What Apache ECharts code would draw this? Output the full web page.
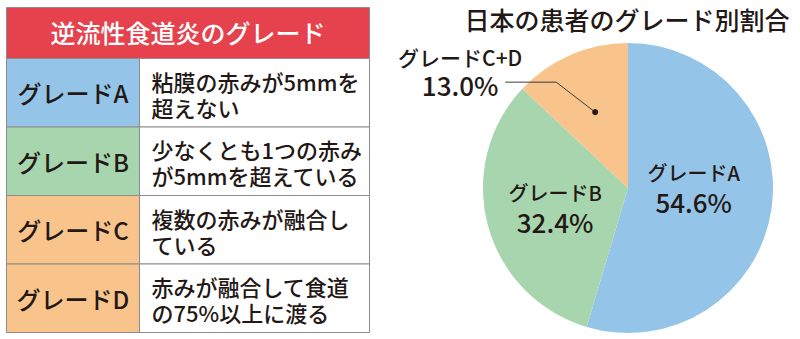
<!DOCTYPE html>
<html>
<head>
<meta charset="utf-8">
<script src="https://cdn.jsdelivr.net/npm/echarts@6/dist/echarts.min.js"></script>
<style>
html, body { margin: 0; padding: 0; background: #fff; }
#chart { width: 800px; height: 339px; }
</style>
</head>
<body>
<div id="chart"></div>
<script>
// 左の表
const tableTitle = '逆流性食道炎のグレード'
const tableGrades = ['グレードA', 'グレードB', 'グレードC', 'グレードD']
const tableNotes = [
  '粘膜の赤みが5mmを\n超えない',
  '少なくとも1つの赤み\nが5mmを超えている',
  '複数の赤みが融合し\nている',
  '赤みが融合して食道\nの75%以上に渡る'
]

// 右の円グラフ
const pieTitle = '日本の患者のグレード別割合'
const pieNames = ['グレードA', 'グレードB', 'グレードC+D']
const pieShares = [54.6, 32.4, 13.0]

const FONT = '"Noto Sans CJK JP", "Noto Sans CJK SC", sans-serif'
const WEIGHT = 500
const INK = '#231815'
const BLUE = '#94c5e9'
const GREEN = '#a6d5ae'
const ORANGE = '#f8c48b'
const RED = '#e5424e'
const rowColors = [BLUE, GREEN, ORANGE, ORANGE]
const pieColors = [BLUE, GREEN, ORANGE]

const pieCenter = [628, 188]
const pieRadius = 145
const dotR = 0.57 // 引き出し線の点（半径比）

// table layout
const tbl = { left: 6.5, right: 369.5, top: 7.5, head: 58.5, bottom: 332.5, split: 139.5 }
const rowH = (tbl.bottom - tbl.head) / tableGrades.length

const graphics = []
graphics.push({
  type: 'rect',
  shape: { x: tbl.left, y: tbl.top, width: tbl.right - tbl.left, height: tbl.head - tbl.top },
  style: { fill: RED, stroke: '#8c8c8c', lineWidth: 1 }
})
graphics.push({
  type: 'text',
  style: {
    text: tableTitle, x: (tbl.left + tbl.right) / 2, y: (tbl.top + tbl.head) / 2 - 1,
    fill: '#fff', fontSize: 25, fontWeight: WEIGHT, fontFamily: FONT, align: 'center', verticalAlign: 'middle'
  }
})
tableGrades.forEach((g, i) => {
  const y = tbl.head + i * rowH
  graphics.push({
    type: 'rect',
    shape: { x: tbl.left, y: y, width: tbl.split - tbl.left, height: rowH },
    style: { fill: rowColors[i], stroke: '#8c8c8c', lineWidth: 1 }
  })
  graphics.push({
    type: 'rect',
    shape: { x: tbl.split, y: y, width: tbl.right - tbl.split, height: rowH },
    style: { fill: '#fff', stroke: '#8c8c8c', lineWidth: 1 }
  })
  graphics.push({
    type: 'text',
    style: {
      text: g, x: (tbl.left + tbl.split) / 2, y: y + rowH / 2,
      fill: INK, fontSize: 24, fontWeight: WEIGHT, fontFamily: FONT, align: 'center', verticalAlign: 'middle'
    }
  })
  graphics.push({
    type: 'text',
    style: {
      text: tableNotes[i], x: tbl.split + 12, y: y + rowH / 2 + 1,
      fill: INK, fontSize: 22, lineHeight: 26, fontWeight: WEIGHT, fontFamily: FONT,
      align: 'left', verticalAlign: 'middle'
    }
  })
})

// C+D の引き出し線の起点（角度は円グラフと同じ 0-100 の目盛り）
const dotAngle = pieShares[0] + pieShares[1] + pieShares[2] / 2

const myChart = echarts.init(document.getElementById('chart'), null, { renderer: 'svg' })

const richText = {
  n: { fontSize: 20, lineHeight: 28, color: INK, fontWeight: WEIGHT, fontFamily: FONT },
  v: { fontSize: 26, lineHeight: 30, color: INK, fontWeight: WEIGHT, fontFamily: FONT }
}

const myOption = {
  backgroundColor: '#fff',
  animation: false,
  title: {
    text: pieTitle,
    left: 627,
    top: 6,
    textAlign: 'center',
    padding: 0,
    textStyle: { fontSize: 25, fontWeight: WEIGHT, color: INK, fontFamily: FONT }
  },
  polar: { center: pieCenter, radius: pieRadius },
  angleAxis: { type: 'value', min: 0, max: 100, startAngle: 90, clockwise: true, show: false },
  radiusAxis: { type: 'value', min: 0, max: 1, show: false },
  graphic: { elements: graphics },
  series: [
    {
      type: 'pie',
      center: pieCenter,
      radius: pieRadius,
      startAngle: 90,
      clockwise: true,
      avoidLabelOverlap: false,
      silent: true,
      itemStyle: { borderWidth: 0 },
      label: {
        position: 'inside',
        formatter: (p) => '{n|' + p.name + '}\n{v|' + p.value.toFixed(1) + '%}',
        rich: richText
      },
      labelLine: { show: false },
      labelLayout: function (params) {
        if (params.dataIndex === 0) return { dx: -9, dy: -11 }
        return {}
      },
      data: pieNames.map((n, i) => {
        const item = { name: n, value: pieShares[i], itemStyle: { color: pieColors[i] } }
        // C+D は外側に引き出す（下の custom で描く）
        if (i === 2) item.label = { show: false }
        return item
      })
    },
    {
      type: 'custom',
      coordinateSystem: 'polar',
      silent: true,
      z: 10,
      data: [[dotR, dotAngle, pieShares[2]]],
      renderItem: function (params, api) {
        const dot = api.coord([api.value(0), api.value(1)])
        const knee = [dot[0] - 39, dot[1] - 30]
        const end = [knee[0] - 51, knee[1]]
        return {
          type: 'group',
          children: [
            {
              type: 'polyline',
              shape: { points: [dot, knee, end] },
              style: { stroke: '#3c3c3c', lineWidth: 1, fill: null }
            },
            {
              type: 'circle',
              shape: { cx: dot[0], cy: dot[1], r: 3 },
              style: { fill: INK }
            },
            {
              type: 'text',
              style: {
                text: '{n|' + pieNames[2] + '}\n{v|' + api.value(2).toFixed(1) + '%}',
                x: end[0] - 45,
                y: end[1] + 17,
                align: 'center',
                verticalAlign: 'bottom',
                rich: {
                  n: { fontSize: 21, lineHeight: 24, fill: INK, fontWeight: WEIGHT, fontFamily: FONT, align: 'center' },
                  v: { fontSize: 26, lineHeight: 30, fill: INK, fontWeight: WEIGHT, fontFamily: FONT, align: 'center' }
                }
              }
            }
          ]
        }
      }
    }
  ]
}
myChart.setOption(myOption)
</script>
</body>
</html>
